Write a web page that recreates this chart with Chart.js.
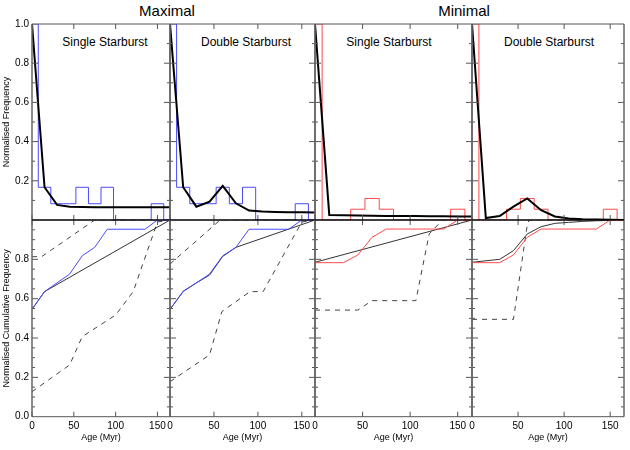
<!DOCTYPE html>
<html><head><meta charset="utf-8">
<script src="https://cdn.jsdelivr.net/npm/chart.js@4.4.0/dist/chart.umd.min.js"></script>
<style>
html,body{margin:0;padding:0;background:#fff;}
#wrap{position:relative;width:630px;height:450px;overflow:hidden;font-family:"Liberation Sans",Arial,Helvetica,sans-serif;}
#wrap canvas{position:absolute;left:0;top:0;}
.t{position:absolute;white-space:nowrap;transform:translate(-50%,-50%);color:#000;line-height:1;}
</style></head><body>
<div id="wrap">
<div class="t" style="left:167px;top:10px;font-size:15px;">Maximal</div>
<div class="t" style="left:464px;top:10px;font-size:15px;">Minimal</div>
<div class="t" style="left:105px;top:42px;font-size:12px;">Single Starburst</div>
<div class="t" style="left:246px;top:42px;font-size:12px;">Double Starburst</div>
<div class="t" style="left:389px;top:42px;font-size:12px;">Single Starburst</div>
<div class="t" style="left:549px;top:42px;font-size:12px;">Double Starburst</div>
</div>
<script>
// ---------- data ----------
const ageBins = [0,15,30,45,60,75,90,105,120,135,150,165];
const histMaximal = [1.0,0.167,0.083,0.083,0.167,0.083,0.167,0,0,0,0.083,0];
const histMinimal = [1.0,0,0,0.055,0.11,0.055,0,0,0,0,0.055,0];
const modelMaxSingle = [1.0,0.167,0.077,0.068,0.066,0.065,0.065,0.065,0.065,0.065,0.065,0.065];
const modelMaxDouble = [1.0,0.167,0.068,0.094,0.174,0.085,0.048,0.043,0.041,0.040,0.039,0.038];
const modelMinSingle = [1.0,0.026,0.024,0.023,0.022,0.021,0.020,0.020,0.019,0.019,0.018,0.018];
const modelMinDouble = [1.0,0.010,0.020,0.068,0.110,0.050,0.018,0.008,0.004,0.002,0.001,0.0];

const cumMaxAge = [0,15,45,60,75,90,135,150,165];
const cumMaxVal = [0.546,0.636,0.725,0.818,0.861,0.953,0.953,1.0,1.0];
const cumMinAge = [0,30,45,60,75,135,150,165];
const cumMinVal = [0.783,0.783,0.822,0.912,0.954,0.954,1.0,1.0];

const fitMaxSingleAge = [0,15,165];
const fitMaxSingleVal = [0.546,0.636,1.0];
const fitMaxDoubleAge = [0,15,30,45,60,75,165];
const fitMaxDoubleVal = [0.546,0.638,0.68,0.72,0.815,0.861,1.0];
const fitMinSingleAge = [0,165];
const fitMinSingleVal = [0.785,1.0];
const fitMinDoubleAge = [0,30,45,60,75,90,105,120,135,150,165];
const fitMinDoubleVal = [0.785,0.80,0.844,0.929,0.966,0.983,0.988,0.993,0.996,0.998,1.0];

const upperMaxSingleAge = [0,12,75,165];
const upperMaxSingleVal = [0.813,0.815,1.0,1.0];
const lowerMaxSingleAge = [0,45,60,100,121,150,165];
const lowerMaxSingleVal = [0.127,0.263,0.407,0.517,0.636,0.99,1.0];
const upperMaxDoubleAge = [0,57,165];
const upperMaxDoubleVal = [0.776,1.0,1.0];
const lowerMaxDoubleAge = [0,45,59,91,106,150,165];
const lowerMaxDoubleVal = [0.178,0.314,0.534,0.636,0.636,0.99,1.0];
const lowerMinSingleAge = [0,45,60,106,120,134,165];
const lowerMinSingleVal = [0.542,0.542,0.59,0.59,0.929,1.0,1.0];
const lowerMinDoubleAge = [0,45,60,62,165];
const lowerMinDoubleVal = [0.495,0.495,0.975,1.0,1.0];

const xTicks = [0,50,100,150];
const yTicksTop = [0.2,0.4,0.6,0.8,1.0];
const yTicksBottom = [0.0,0.2,0.4,0.6,0.8];
const yMinorTop = [0.1,0.2,0.3,0.4,0.5,0.6,0.7,0.8,0.9];
const yMinorBottom = [0.05,0.1,0.15,0.2,0.25,0.3,0.35,0.4,0.45,0.5,0.55,0.6,0.65,0.7,0.75,0.8,0.85,0.9,0.95];

// ---------- layout ----------
const W = 630, H = 450;
const colX = [32,170,315,472,624];
const rowY = [24,220,416.7];
const yW = 32, xH = 26.4;
const FONT = '"Liberation Sans", Arial, Helvetica, sans-serif';
const BLUE = '#4a4aff', RED = '#ff4a4a';

const xy = (a, v) => a.map((x, i) => ({x, y: v[i]}));

const framePlugin = {
  id: 'frame',
  afterDatasetsDraw(chart, args, o) {
    const {ctx, chartArea: a, scales: {x, y}} = chart;
    ctx.save();
    ctx.strokeStyle = '#555';
    ctx.lineWidth = 1;
    const ln = (x1, y1, x2, y2) => { ctx.beginPath(); ctx.moveTo(x1, y1); ctx.lineTo(x2, y2); ctx.stroke(); };
    for (const v of xTicks) {
      const px = x.getPixelForValue(v);
      ln(px, a.top, px, a.top + 5);
      ln(px, a.bottom, px, a.bottom - 5);
    }
    for (const v of o.minor) {
      const py = y.getPixelForValue(v);
      const major = Math.abs(v * 5 - Math.round(v * 5)) < 1e-6;
      const L = major ? 6 : 3;
      ln(a.left, py, a.left + L, py);
      ln(a.right, py, a.right - L, py);
    }
    ctx.lineWidth = 1.5;
    ctx.strokeStyle = '#666';
    ln(a.left, a.top, a.left, a.bottom);
    ln(a.right, a.top, a.right, a.bottom);
    ctx.lineWidth = 1;
    ctx.strokeStyle = o.topRow ? '#555' : '#000';
    ln(a.left, a.top, a.right, a.top);
    ctx.strokeStyle = o.topRow ? '#000' : '#555';
    ln(a.left, a.bottom, a.right, a.bottom);
    ctx.restore();
  }
};

function panel(col, row, datasets) {
  const cv = document.createElement('canvas');
  cv.width = W; cv.height = H;
  document.getElementById('wrap').appendChild(cv);
  const showY = col === 0, showX = row === 1;
  const x0 = colX[col], x1 = colX[col + 1], y0 = rowY[row], y1 = rowY[row + 1];
  new Chart(cv, {
    type: 'line',
    data: {datasets},
    options: {
      responsive: false, animation: false, devicePixelRatio: 1,
      events: [],
      layout: {padding: {
        left: x0 - (showY ? yW : 0), top: y0,
        right: W - x1, bottom: H - y1 - (showX ? xH : 0)}},
      elements: {point: {radius: 0}, line: {tension: 0}},
      plugins: {legend: {display: false}, tooltip: {enabled: false},
        frame: {minor: row === 0 ? yMinorTop : yMinorBottom, topRow: row === 0}},
      scales: {
        x: {
          type: 'linear', min: 0, max: 165, display: showX,
          grid: {display: false, drawTicks: false}, border: {display: false},
          afterBuildTicks: s => { s.ticks = xTicks.map(v => ({value: v})); },
          afterFit: s => { if (showX) s.height = xH; },
          ticks: {autoSkip: false, maxRotation: 0, padding: 4, color: '#000',
            font: {family: FONT, size: 10}},
          title: {display: true, text: 'Age (Myr)', color: '#000',
            font: {family: FONT, size: 9}, padding: {top: 0, bottom: 0}}
        },
        y: {
          type: 'linear', min: 0, max: 1, display: showY,
          grid: {display: false, drawTicks: false}, border: {display: false},
          afterBuildTicks: s => { s.ticks = (row === 0 ? yTicksTop : yTicksBottom).map(v => ({value: v})); },
          afterFit: s => { if (showY) s.width = yW; },
          ticks: {autoSkip: false, padding: 3, color: '#000',
            font: {family: FONT, size: 10}, callback: v => Number(v).toFixed(1)},
          title: {display: true, color: '#000',
            text: row === 0 ? 'Normalised Frequency' : 'Normalised Cumulative Frequency',
            font: {family: FONT, size: 9}, padding: {top: 1, bottom: 0}}
        }
      }
    },
    plugins: [framePlugin]
  });
}

const model = d => ({data: xy(ageBins, d), borderColor: '#000', borderWidth: 2});
const hist = (d, c) => ({data: xy(ageBins, d), borderColor: c, borderWidth: 1, stepped: 'middle'});
const cum = (a, v, c) => ({data: xy(a, v), borderColor: c, borderWidth: 1});
const fit = (a, v) => ({data: xy(a, v), borderColor: '#333', borderWidth: 1});
const band = (a, v) => ({data: xy(a, v), borderColor: '#444', borderWidth: 1, borderDash: [5, 5]});

panel(0, 0, [model(modelMaxSingle), hist(histMaximal, BLUE)]);
panel(1, 0, [model(modelMaxDouble), hist(histMaximal, BLUE)]);
panel(2, 0, [model(modelMinSingle), hist(histMinimal, RED)]);
panel(3, 0, [model(modelMinDouble), hist(histMinimal, RED)]);

panel(0, 1, [cum(cumMaxAge, cumMaxVal, BLUE), fit(fitMaxSingleAge, fitMaxSingleVal),
  band(upperMaxSingleAge, upperMaxSingleVal), band(lowerMaxSingleAge, lowerMaxSingleVal)]);
panel(1, 1, [cum(cumMaxAge, cumMaxVal, BLUE), fit(fitMaxDoubleAge, fitMaxDoubleVal),
  band(upperMaxDoubleAge, upperMaxDoubleVal), band(lowerMaxDoubleAge, lowerMaxDoubleVal)]);
panel(2, 1, [cum(cumMinAge, cumMinVal, RED), fit(fitMinSingleAge, fitMinSingleVal),
  band(lowerMinSingleAge, lowerMinSingleVal)]);
panel(3, 1, [cum(cumMinAge, cumMinVal, RED), fit(fitMinDoubleAge, fitMinDoubleVal),
  band(lowerMinDoubleAge, lowerMinDoubleVal)]);
</script>
</body></html>
